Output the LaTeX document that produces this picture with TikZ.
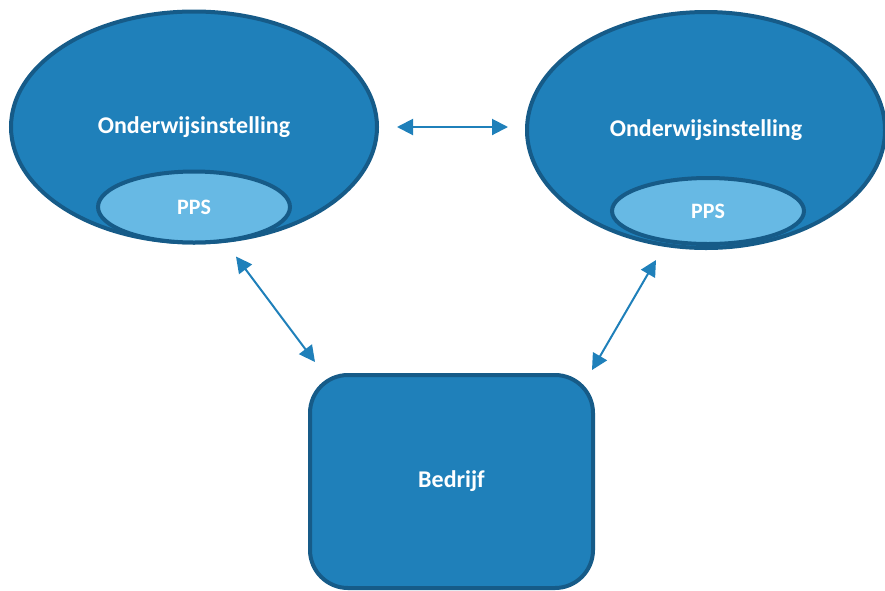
\documentclass[tikz,border=0pt]{standalone}
\usepackage{fontspec}
\setmainfont{Carlito}
\usetikzlibrary{arrows.meta,positioning,calc,shapes.geometric}
\definecolor{fillblue}{RGB}{31,128,186}
\definecolor{edgeblue}{RGB}{22,91,136}
\definecolor{lightblue}{RGB}{103,185,228}
\tikzset{
  inst/.style={ellipse, draw=edgeblue, line width=4pt, fill=fillblue, text=white, font=\fontsize{24}{28}\selectfont\bfseries},
  pps/.style={ellipse, draw=edgeblue, line width=4pt, fill=lightblue, text=white, font=\fontsize{22}{26}\selectfont\bfseries},
  firm/.style={draw=edgeblue, line width=4pt, fill=fillblue, rounded corners=38pt, text=white, font=\fontsize{24}{28}\selectfont\bfseries},
  arr/.style={{Triangle[length=16pt,width=16pt]}-{Triangle[length=16pt,width=16pt]}, line width=2pt, draw=fillblue}}

\begin{document}
\begin{tikzpicture}[x=1pt, y=-1pt]
  \useasboundingbox (0,0) rectangle (885,590);
  % schools
  \node[inst, minimum width=366pt, minimum height=231pt] (lo) at (194,127) {Onderwijsinstelling};
  \node[inst, minimum width=358pt, minimum height=236pt] (ro) at (706,130) {Onderwijsinstelling};
  \node[pps, minimum width=192pt, minimum height=71pt] (lp) at (194,207) {PPS};
  \node[pps, minimum width=192pt, minimum height=66pt] (rp) at (708,211) {PPS};
  % company
  \node[firm, minimum width=283pt, minimum height=213pt] (bd) at (451.5,481.5) {Bedrijf};
  \draw[arr] ($(lo.east)+(18,0)$) -- ($(ro.west)+(-17,-3)$);
  \draw[arr] ($(lo.south)+(42,12)$) -- ($(bd.north west)+(7,-11)$);
  \draw[arr] ($(ro.south)+(-50,10)$) -- ($(bd.north east)+(-3,-3)$);
\end{tikzpicture}
\end{document}
